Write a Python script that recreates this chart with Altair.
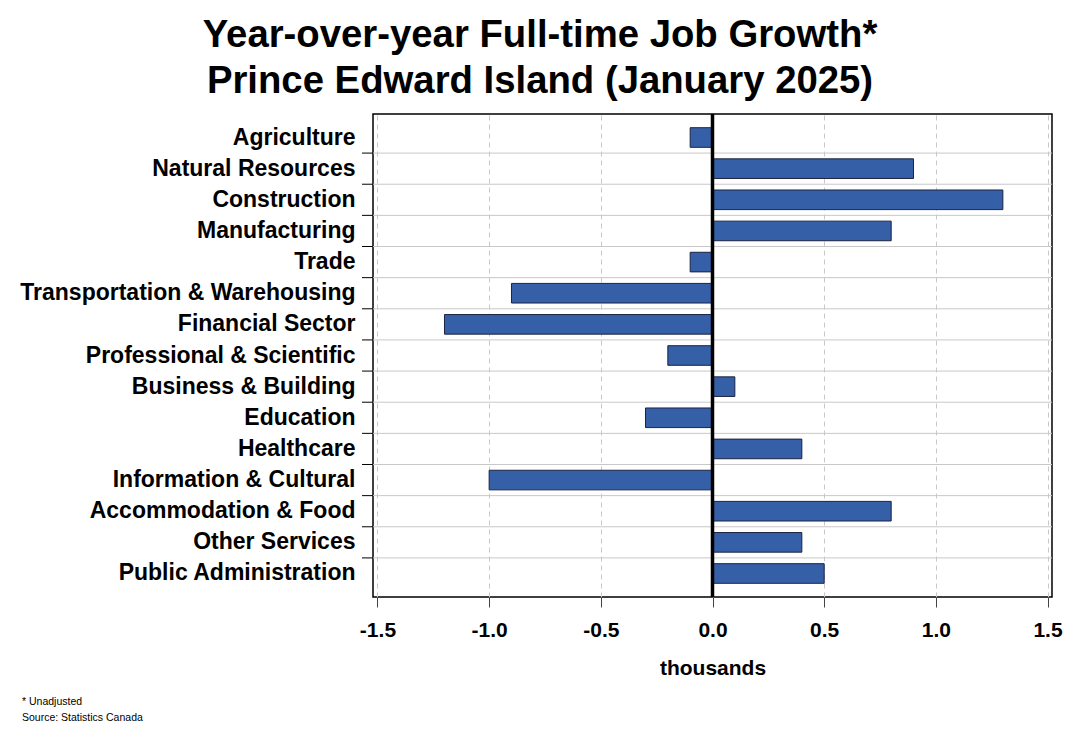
import altair as alt
import pandas as pd

categories = [
    "Agriculture", "Natural Resources", "Construction", "Manufacturing", "Trade",
    "Transportation & Warehousing", "Financial Sector", "Professional & Scientific",
    "Business & Building", "Education", "Healthcare", "Information & Cultural",
    "Accommodation & Food", "Other Services", "Public Administration",
]
values = [-0.1, 0.9, 1.3, 0.8, -0.1, -0.9, -1.2, -0.2, 0.1, -0.3, 0.4, -1.0, 0.8, 0.4, 0.5]
x_ticks = [-1.5, -1.0, -0.5, 0.0, 0.5, 1.0, 1.5]
title_lines = ["Year-over-year Full-time Job Growth*", "Prince Edward Island (January 2025)"]
footnotes = ["* Unadjusted", "Source: Statistics Canada"]

FONT = "Liberation Sans"
W, H = 679, 483
P_IN, P_OUT = 0.37, 0.44
step = H / (len(categories) - P_IN + 2 * P_OUT)
half_gap = P_IN * step / 2

df = pd.DataFrame({"industry": categories, "value": values})
bounds = pd.DataFrame({"industry": categories[1:]})
zero = pd.DataFrame({"value": [0.0]})

yscale = alt.Scale(domain=categories, paddingInner=P_IN, paddingOuter=P_OUT)
xscale = alt.Scale(domain=[-1.52, 1.52], nice=False, zero=False)

y_axis = alt.Axis(
    title=None, ticks=False, domain=False, grid=False,
    labelFont=FONT, labelFontSize=23, labelFontWeight="bold",
    labelColor="black", labelPadding=18, labelLimit=500,
)
x_axis = alt.Axis(
    values=x_ticks, labelExpr="replace(format(datum.value, '.1f'), '\u2212', '-')",
    title="thousands",
    labelFont=FONT, labelFontSize=21, labelFontWeight="bold", labelColor="black",
    labelPadding=12, labelFlush=False,
    tickSize=10, tickColor="#444444", tickWidth=1,
    domain=False,
    grid=True, gridColor="#c8c8c8", gridDash=[5, 4], gridWidth=1,
    titleFont=FONT, titleFontSize=21, titleFontWeight="bold", titleColor="black",
    titlePadding=17,
)

bars = alt.Chart(df).mark_bar(color="#3560a8", stroke="#1c2340", strokeWidth=1).encode(
    y=alt.Y("industry:N", scale=yscale, sort=categories, axis=y_axis),
    x=alt.X("value:Q", scale=xscale, axis=x_axis),
)

grid = alt.Chart(bounds).mark_rule(color="#c8c8c8", strokeWidth=1, yOffset=-half_gap).encode(
    y=alt.Y("industry:N", scale=yscale, sort=categories, bandPosition=0, axis=y_axis)
)
ticks = alt.Chart(bounds).mark_rule(color="black", strokeWidth=1, yOffset=-half_gap).encode(
    y=alt.Y("industry:N", scale=yscale, sort=categories, bandPosition=0, axis=y_axis),
    x=alt.value(-11),
    x2=alt.value(0),
)

zero_line = alt.Chart(zero).mark_rule(color="black", strokeWidth=3.5).encode(
    x=alt.X("value:Q", scale=xscale, axis=x_axis)
)

note1 = alt.Chart(pd.DataFrame({"t": [footnotes[0]]})).mark_text(
    font=FONT, fontSize=10.5, color="black", align="left", baseline="middle",
    x=22 - 373, y=702 - 114,
).encode(text="t:N")
note2 = alt.Chart(pd.DataFrame({"t": [footnotes[1]]})).mark_text(
    font=FONT, fontSize=10.5, color="black", align="left", baseline="middle",
    x=22 - 373, y=718 - 114,
).encode(text="t:N")

chart = alt.layer(bars, grid, ticks, zero_line, note1, note2).properties(
    width=W,
    height=H,
    autosize=alt.AutoSizeParams(type="none"),
    padding={"left": 365, "top": 106, "right": 20, "bottom": 135},
    title=alt.TitleParams(
        text=title_lines, anchor="middle", frame="group", dx=-172.5,
        font=FONT, fontSize=38.3, fontWeight="bold", color="black",
        lineHeight=45.5, offset=11,
    ),
).configure(background="white").configure_view(stroke="black", strokeWidth=1.5)

chart.save("out.html", embed_options={"renderer": "svg", "actions": False})
